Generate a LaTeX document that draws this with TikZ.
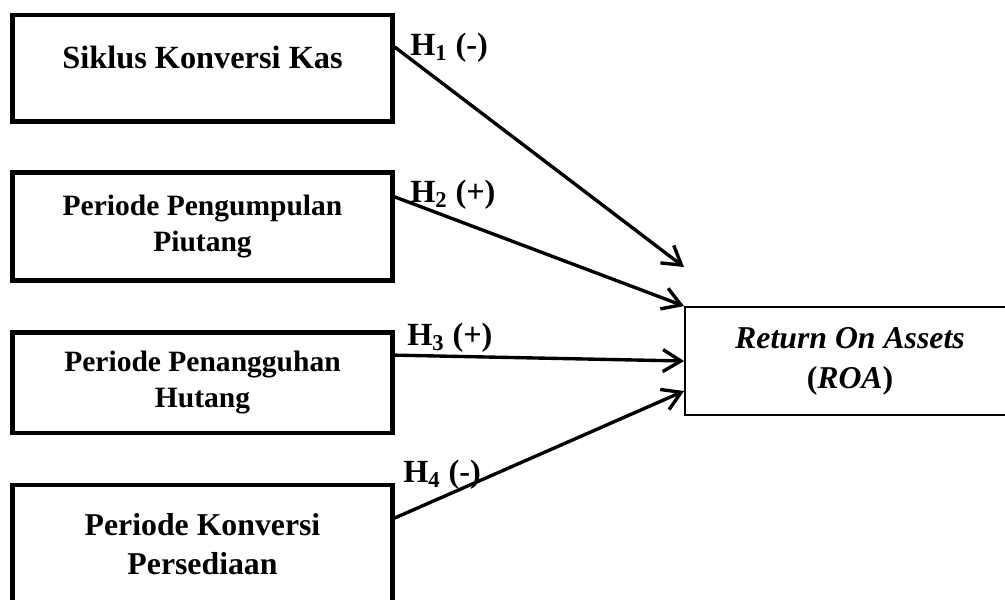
\documentclass[tikz,border=0pt]{standalone}
\usepackage{fontspec}
\setmainfont{Liberation Serif}
\usetikzlibrary{positioning,arrows.meta}

\tikzset{
  varbox/.style={draw, line width=3.2pt, minimum width=9.5cm, align=center,
    font=\fontsize{21}{25.6}\selectfont\bfseries},
  roabox/.style={draw, line width=1.3pt, minimum width=8.25cm, minimum height=2.7cm,
    align=center, font=\fontsize{22.6}{28.5}\selectfont\bfseries},
  hyp/.style={font=\fontsize{23}{27}\selectfont\bfseries, inner sep=0pt, anchor=base west},
  link/.style={line width=2.4pt, -{Straight Barb[length=0.45cm, width=0.55cm]}}
}

\begin{document}
\begin{tikzpicture}
    \useasboundingbox (0,0) rectangle (25.125,-14.975);
    \clip (0,0) rectangle (25.125,-14.975);

    % the four working capital variables, one under the other
    \node[varbox, minimum height=2.6625cm, text depth=0.55cm,
      font=\fontsize{23}{27}\selectfont\bfseries] (b1) at (5.0625,-1.706) {Siklus Konversi Kas};
    \node[varbox, minimum height=2.7cm, below=1.1625cm of b1] (b2) {Periode Pengumpulan\\Piutang};
    \node[varbox, minimum height=2.5125cm, below=1.1875cm of b2] (b3) {Periode Penangguhan\\Hutang};
    \node[varbox, minimum height=2.95cm, below=1.1875cm of b3,
      font=\fontsize{22.6}{27.7}\selectfont\bfseries] (b4) {Periode Konversi\\Persediaan};

    \node[roabox] (roa) at (21.25,-9.025) {\textit{Return On Assets}\\(\textit{ROA})};

    \coordinate (t1) at (17.1,-6.675);

    \draw[link] ([yshift=0.53cm]b1.east) -- (t1);
    \draw[link] ([yshift=0.74cm]b2.east) -- (roa.north west);
    \draw[link] ([yshift=0.69cm]b3.east) -- (roa.west);
    \draw[link] ([yshift=0.65cm]b4.east) -- ([yshift=-0.75cm]roa.west);

    \node[hyp] (h1) at (10.25,-1.375) {H\textsubscript{1} (-)};
    \node[hyp] (h2) at (10.25,-5.05) {H\textsubscript{2} (+)};
    \node[hyp] (h3) at (10.175,-8.625) {H\textsubscript{3} (+)};
    \node[hyp] (h4) at (10.075,-12.05) {H\textsubscript{4} (-)};
\end{tikzpicture}
\end{document}
